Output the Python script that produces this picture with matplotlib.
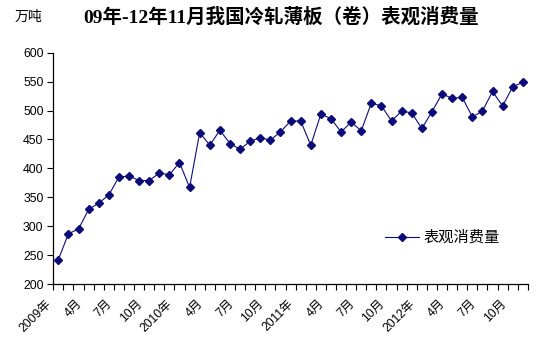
import matplotlib
matplotlib.use("Agg")
import matplotlib.pyplot as plt
import matplotlib.transforms as mtransforms
import numpy as np

# monthly apparent consumption, 2009-01 .. 2012-11 (10k tonnes)
values = [242, 287, 295, 329, 340, 354, 385, 387, 379, 379, 392, 389,
          410, 367, 462, 440, 466, 443, 433, 447, 453, 449, 463, 482,
          482, 440, 494, 486, 463, 480, 465, 513, 508, 482, 499, 496,
          469, 498, 529, 521, 523, 489, 499, 533, 508, 541, 549]
tick_labels = ["2009年", "4月", "7月", "10月", "2010年", "4月", "7月", "10月",
               "2011年", "4月", "7月", "10月", "2012年", "4月", "7月", "10月"]
title = "09年-12年11月我国冷轧薄板（卷）表观消费量"
series_name = "表观消费量"
unit = "万吨"

cjk = ["Liberation Sans", "Noto Sans CJK SC"]
navy = "#0c0c78"

fig = plt.figure(figsize=(5.51, 3.54), dpi=100)
ax = fig.add_axes([0.0967, 0.1977, 0.8613, 0.6533])

n = len(values)
x = np.arange(n) + 0.5
ax.plot(x, values, color=navy, lw=0.8, marker="D", ms=4.2,
        mfc=navy, mec=navy, label=series_name)

ax.set_xlim(0, n)
ax.set_ylim(200, 600)
ax.set_yticks(np.arange(200, 601, 50))
ax.tick_params(axis="y", direction="out", length=4, width=0.8,
               labelsize=8.8, pad=3)
for lab in ax.get_yticklabels():
    lab.set_fontfamily("Liberation Sans")

# category boundaries as tick marks, labels every third month
ax.set_xticks(np.arange(0, n + 1))
ax.set_xticklabels([])
ax.tick_params(axis="x", which="major", direction="out", length=4, width=0.8)
ax.set_xticks(x[::3], minor=True)
ax.set_xticklabels(tick_labels, minor=True, rotation=45, ha="right",
                   va="center", rotation_mode="anchor", fontsize=8.8,
                   family=cjk)
ax.tick_params(axis="x", which="minor", length=0, pad=13)
shift = mtransforms.ScaledTranslation(-0.085, 0, fig.dpi_scale_trans)
for lab in ax.xaxis.get_minorticklabels():
    lab.set_transform(lab.get_transform() + shift)

for s in ["top", "right"]:
    ax.spines[s].set_visible(False)
for s in ["left", "bottom"]:
    ax.spines[s].set_linewidth(0.9)

fig.text(0.511, 0.952, title, ha="center", va="center", fontsize=14,
         fontweight="bold", family=["Liberation Serif", "Noto Sans CJK SC"])
fig.text(0.051, 0.952, unit, ha="center", va="center", fontsize=10,
         family=["Noto Sans CJK SC"])

leg = ax.legend(loc="center left", bbox_to_anchor=(0.67, 0.2), frameon=False,
                prop={"family": cjk, "size": 11}, handlelength=2.2,
                handletextpad=0.3)

fig.savefig("out.png", dpi=100)
